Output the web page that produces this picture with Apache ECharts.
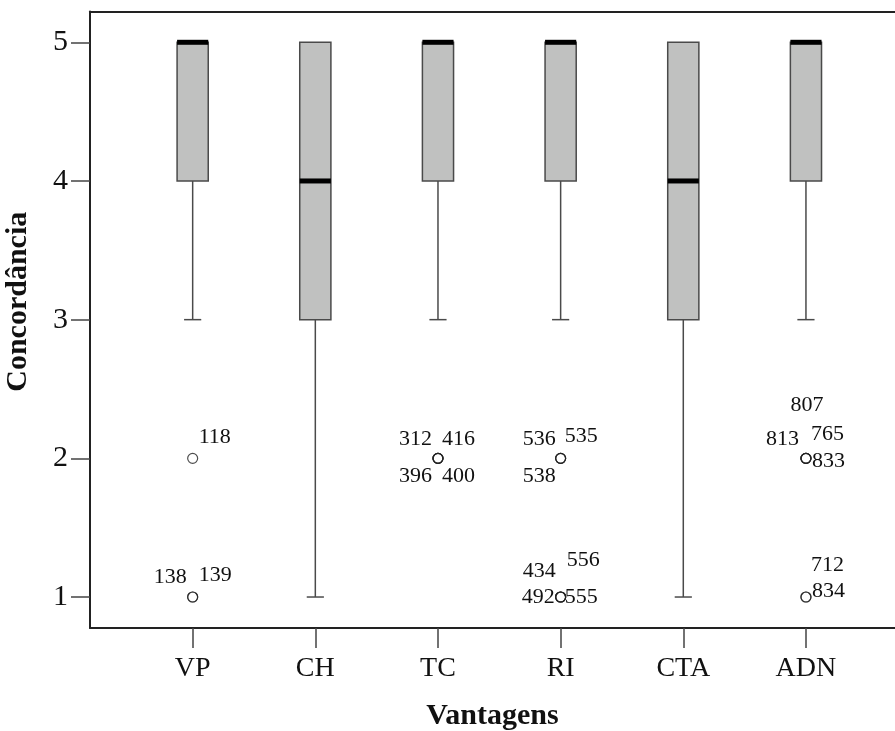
<!DOCTYPE html>
<html>
<head>
<meta charset="utf-8">
<script src="https://cdn.jsdelivr.net/npm/echarts@6/dist/echarts.min.js"></script>
<style>html,body{margin:0;padding:0;background:#fff}#c{width:895px;height:731px}</style>
</head>
<body>
<div id="c"></div>
<script>
// ---- data ----
const categories = ['VP', 'CH', 'TC', 'RI', 'CTA', 'ADN'];
const lowWhisker  = [3, 1, 3, 3, 1, 3];
const q1          = [4, 3, 4, 4, 3, 4];
const median      = [5, 4, 5, 5, 4, 5];
const q3          = [5, 5, 5, 5, 5, 5];
const highWhisker = [5, 5, 5, 5, 5, 5];

const outlierCategory = ['VP','VP','VP','TC','TC','TC','TC','RI','RI','RI','RI','RI','RI','RI','ADN','ADN','ADN','ADN','ADN','ADN'];
const outlierValue    = [2, 1, 1, 2, 2, 2, 2, 2, 2, 2, 1, 1, 1, 1, 2, 2, 2, 2, 1, 1];
const outlierCase     = ['118','138','139','312','416','396','400','536','535','538','434','556','492','555','807','813','765','833','712','834'];

const yTicks = [1, 2, 3, 4, 5];

// ---- label placement (style only) ----
const labelPlacement = {
  '118': [6, -21, 'left'],  '138': [-6, -20, 'right'], '139': [6, -22, 'left'],
  '312': [-6, -19, 'right'], '416': [4, -19, 'left'], '396': [-6, 18, 'right'], '400': [4, 18, 'left'],
  '536': [-5, -19, 'right'], '535': [4, -22, 'left'], '538': [-5, 18, 'right'],
  '434': [-5, -26, 'right'], '556': [6, -37, 'left'], '492': [-6, 0, 'right'], '555': [4, 0, 'left'],
  '807': [1, -53, 'center'], '813': [-7, -19, 'right'], '765': [5, -24, 'left'], '833': [6, 3, 'left'],
  '712': [5, -32, 'left'], '834': [6, -6, 'left']
};

const catIdx = categories.map((_, i) => i);
const boxData = categories.map((c, i) => [i, lowWhisker[i], q1[i], median[i], q3[i], highWhisker[i]]);
const outlierData = outlierCase.map((id, k) => [categories.indexOf(outlierCategory[k]), outlierValue[k], id]);

const serif = '"Liberation Serif", "Times New Roman", serif';
const chart = echarts.init(document.getElementById('c'), null, {renderer: 'canvas'});

function renderBox(params, api) {
  const x = api.value(0);
  const band = api.size([1, 0])[0];
  const hw = band * 0.127, cw = band * 0.07;
  const pLow = api.coord([x, api.value(1)]);
  const pQ1 = api.coord([x, api.value(2)]);
  const pMed = api.coord([x, api.value(3)]);
  const pQ3 = api.coord([x, api.value(4)]);
  const pHigh = api.coord([x, api.value(5)]);
  const cx = pQ1[0];
  const lineStyle = {stroke: '#4a4a4a', lineWidth: 1.5};
  const children = [];
  if (api.value(1) < api.value(2)) {
    children.push({type: 'line', shape: {x1: cx, y1: pQ1[1], x2: cx, y2: pLow[1]}, style: lineStyle});
    children.push({type: 'line', shape: {x1: cx - cw, y1: pLow[1], x2: cx + cw, y2: pLow[1]}, style: lineStyle});
  }
  if (api.value(5) > api.value(4)) {
    children.push({type: 'line', shape: {x1: cx, y1: pQ3[1], x2: cx, y2: pHigh[1]}, style: lineStyle});
    children.push({type: 'line', shape: {x1: cx - cw, y1: pHigh[1], x2: cx + cw, y2: pHigh[1]}, style: lineStyle});
  }
  children.push({type: 'rect', shape: {x: cx - hw, y: pQ3[1], width: 2 * hw, height: pQ1[1] - pQ3[1]},
    style: {fill: '#c0c1c0', stroke: '#4a4a4a', lineWidth: 1.5}});
  children.push({type: 'line', shape: {x1: cx - hw, y1: pMed[1], x2: cx + hw, y2: pMed[1]},
    style: {stroke: '#000', lineWidth: 5}});
  return {type: 'group', children};
}

function renderLabel(params, api) {
  const p = api.coord([api.value(0), api.value(1)]);
  const id = outlierData[params.dataIndex][2];
  const pl = labelPlacement[id] || [6, -20, 'left'];
  return {type: 'text', style: {text: id, x: p[0] + pl[0], y: p[1] + pl[1], align: pl[2], verticalAlign: 'middle',
    font: '22px ' + serif, fill: '#111'}};
}

const axisLineStyle = {color: '#222', width: 2};
chart.setOption({
  animation: false,
  backgroundColor: '#fff',
  grid: {left: 90, right: 0, top: 11.5, bottom: 103, containLabel: false, outerBoundsMode: 'none'},
  xAxis: [{
    type: 'value', min: -0.837, max: 5.726,
    name: 'Vantagens', nameLocation: 'middle', nameGap: 73,
    nameTextStyle: {fontFamily: serif, fontWeight: 'bold', fontSize: 30, color: '#111'},
    axisLine: {show: true, onZero: false, lineStyle: axisLineStyle},
    axisTick: {show: true, customValues: catIdx, length: 20, lineStyle: {color: '#444', width: 1.5}},
    axisLabel: {customValues: catIdx, formatter: v => categories[Math.round(v)], margin: 27,
      fontFamily: serif, fontSize: 28, color: '#111'},
    splitLine: {show: false}
  }, {
    type: 'value', position: 'top', min: -0.837, max: 5.726,
    axisLine: {show: true, onZero: false, lineStyle: axisLineStyle},
    axisTick: {show: false}, axisLabel: {show: false}, splitLine: {show: false}
  }],
  yAxis: {
    type: 'value', min: 0.7766, max: 5.222,
    name: 'Concordância', nameLocation: 'middle', nameGap: 57,
    nameTextStyle: {fontFamily: serif, fontWeight: 'bold', fontSize: 30, color: '#111', padding: [0, 0, 0, 36]},
    axisLine: {show: true, onZero: false, lineStyle: axisLineStyle},
    axisTick: {show: true, customValues: yTicks, length: 19, lineStyle: {color: '#444', width: 1.5}},
    axisLabel: {customValues: yTicks, margin: 22, fontFamily: serif, fontSize: 30, color: '#111'},
    splitLine: {show: false}
  },
  series: [{
    type: 'custom', name: 'box', renderItem: renderBox, data: boxData,
    encode: {x: 0, y: [1, 2, 3, 4, 5]}, z: 2
  }, {
    type: 'scatter', name: 'outliers', data: outlierData.map(d => [d[0], d[1]]),
    symbol: 'circle', symbolSize: 10,
    itemStyle: {color: 'rgba(0,0,0,0)', borderColor: '#222', borderWidth: 1.2}, z: 3
  }, {
    type: 'custom', name: 'caseLabels', renderItem: renderLabel, data: outlierData.map(d => [d[0], d[1]]),
    encode: {x: 0, y: 1}, z: 4
  }]
});
</script>
</body>
</html>
